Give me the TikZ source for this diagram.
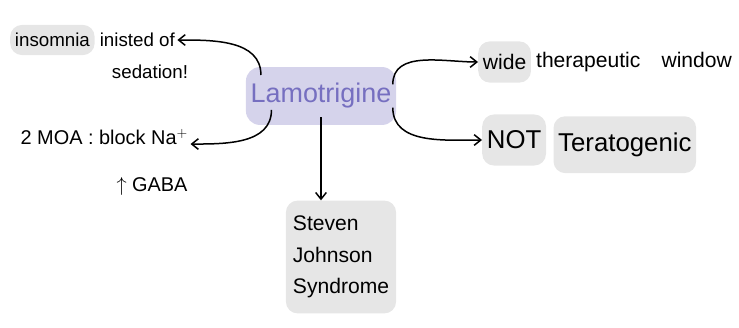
\documentclass[tikz,border=0pt]{standalone}
\usepackage{fontspec}
\setmainfont{Liberation Sans}
\usetikzlibrary{positioning,arrows.meta}

\begin{document}
\begin{tikzpicture}[x=0.03cm, y=-0.03cm]

\def\lineWidth{0.45}
\def\nodedist{2pt}
\definecolor{lavender}{RGB}{213,211,235}
\definecolor{lavtext}{RGB}{118,111,192}
\definecolor{hilite}{RGB}{230,230,230}

\tikzset{
  arr/.style={line width=\lineWidth mm, -{Straight Barb[length=2mm, width=3.2mm]}},
  mark hi/.style={fill=hilite, rounded corners=10pt, inner xsep=4pt},
  plain txt/.style={inner sep=2pt}
}

\useasboundingbox (0,0) rectangle (739,327);

%NODES

\node[fill=lavender, rounded corners=12pt, inner xsep=4pt, inner ysep=14pt, text=lavtext, font=\fontsize{23}{26}\selectfont] (lamo) at (321,96) {Lamotrigine};

\node[mark hi, inner ysep=7pt, anchor=west, font=\fontsize{16}{19}\selectfont] (insom) at (10,40) {insomnia};
\node[plain txt, right=\nodedist of insom, font=\fontsize{16}{19}\selectfont] (inst) {inisted of};
\node[plain txt, font=\fontsize{16}{19}\selectfont] (sed) at (150,72) {sedation!};

\node[plain txt, anchor=west, font=\fontsize{17}{20}\selectfont] (moa) at (18,137) {2 MOA : block Na$^{+}$};
\node[plain txt, font=\fontsize{17}{20}\selectfont] (gaba) at (152,186) {$\uparrow$ GABA};

\node[mark hi, inner xsep=6pt, inner ysep=13pt, align=left, font=\fontsize{18}{27}\selectfont] (sjs) at (341,257) {Steven\\Johnson\\Syndrome};

\node[mark hi, inner ysep=11pt, anchor=west, font=\fontsize{18}{21}\selectfont] (wide) at (478,62) {wide};
\node[plain txt, right=\nodedist of wide, font=\fontsize{18}{21}\selectfont] (ther) {therapeutic\quad window};

\node[mark hi, inner ysep=14pt, anchor=west, font=\fontsize{22}{26}\selectfont] (notn) at (482,140) {NOT};
\node[mark hi, inner ysep=14pt, right=6pt of notn, yshift=-4pt, font=\fontsize{22}{26}\selectfont] (tera) {Teratogenic};

%DRAW

\draw[arr] ([xshift=13pt, yshift=-7pt]lamo.north west) to[out=90, in=0] (inst.east);
\draw[arr] ([xshift=22pt, yshift=13pt]lamo.south west) to[out=-90, in=0] ([yshift=-6pt]moa.east);
\draw[arr] (lamo.south) ++(0,-8) -- (lamo.south |- sjs.north);
\draw[arr] ([xshift=-3pt, yshift=-15pt]lamo.north east) to[out=90, in=180] (wide.west);
\draw[arr] ([xshift=-3pt, yshift=15pt]lamo.south east) to[out=-90, in=180] (notn.west);

\end{tikzpicture}
\end{document}
